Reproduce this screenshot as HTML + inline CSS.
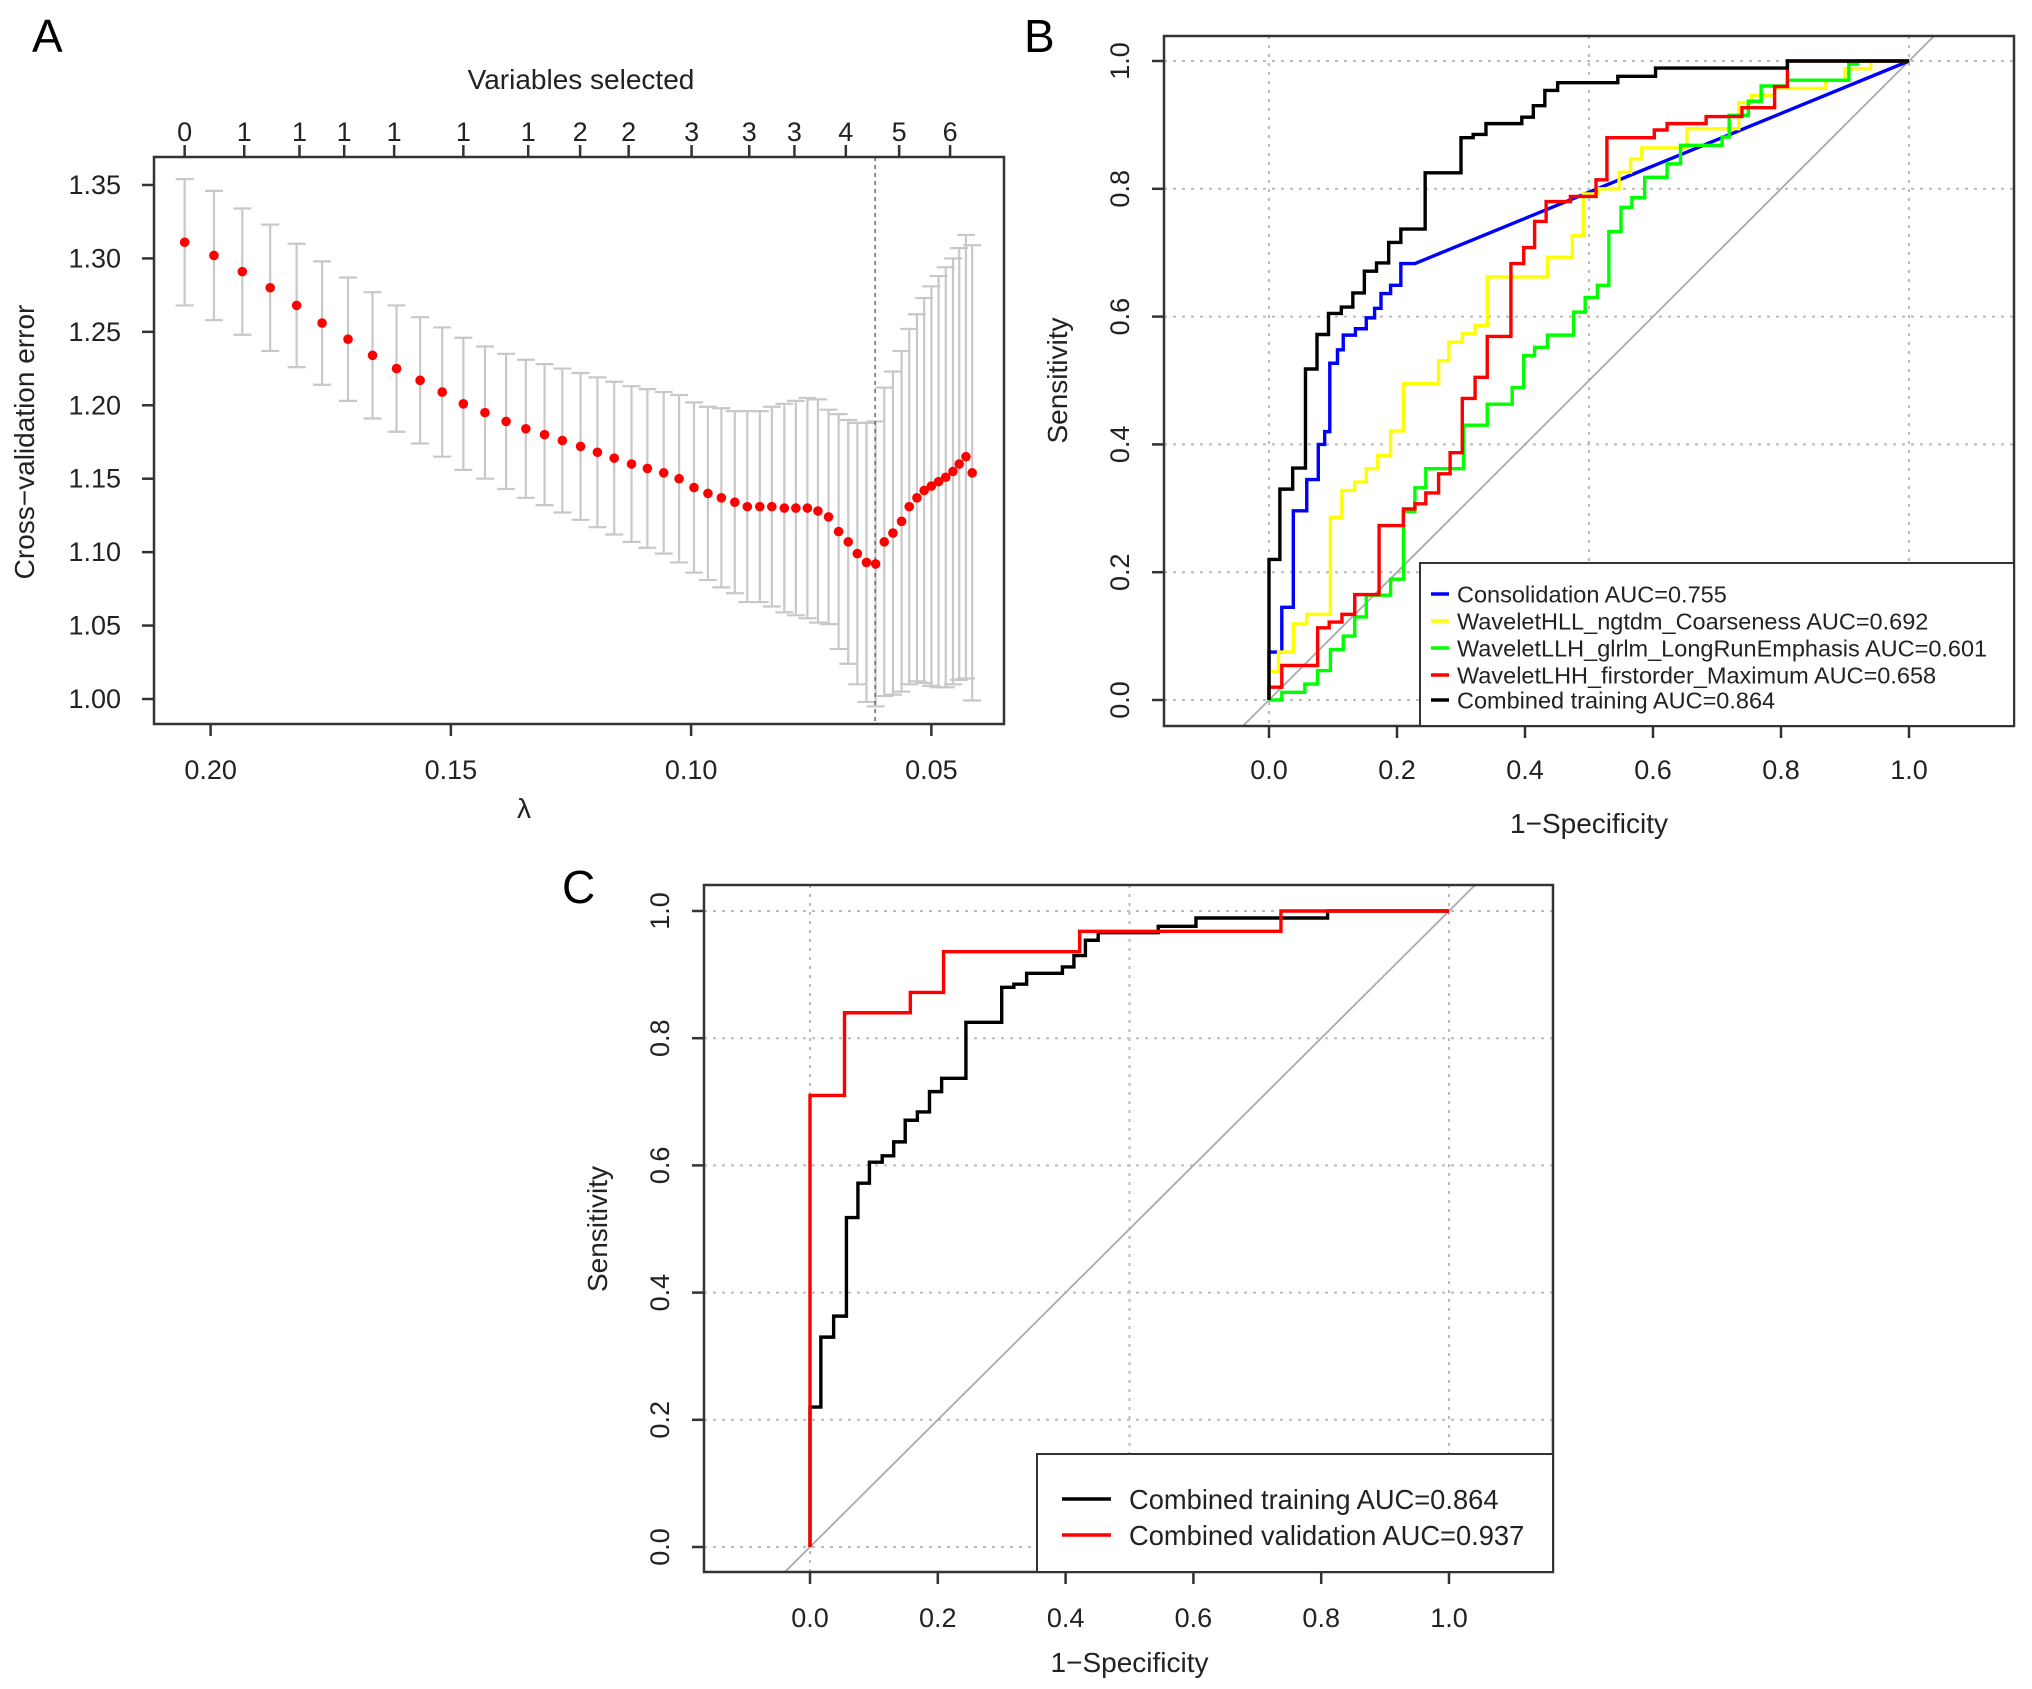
<!DOCTYPE html>
<html><head><meta charset="utf-8"><style>
html,body{margin:0;padding:0;background:#fff;}
svg{display:block;font-family:"Liberation Sans",sans-serif;}
</style></head><body>
<svg id="fig" width="2032" height="1689" viewBox="0 0 2032 1689" xmlns="http://www.w3.org/2000/svg"></svg>
<script>
// ---------- Panel A data ----------
const lassoLambda=[0.2054,0.1993,0.1934,0.1876,0.1821,0.1768,0.1714,0.1663,0.1613,0.1564,0.1518,0.1474,0.1429,0.1385,0.1344,0.1305,0.1268,0.1230,0.1195,0.1160,0.1124,0.1091,0.1057,0.1025,0.0994,0.0965,0.0937,0.0909,0.0883,0.0857,0.0832,0.0806,0.0782,0.0758,0.0736,0.0714,0.0693,0.0673,0.0654,0.0635,0.0616,0.0598,0.0580,0.0562,0.0546,0.0530,0.0515,0.0500,0.0485,0.0470,0.0455,0.0442,0.0428,0.0415];
const cvError=[1.311,1.302,1.291,1.280,1.268,1.256,1.245,1.234,1.225,1.217,1.209,1.201,1.195,1.189,1.184,1.180,1.176,1.172,1.168,1.164,1.160,1.157,1.154,1.150,1.144,1.140,1.137,1.134,1.131,1.131,1.131,1.130,1.130,1.130,1.128,1.124,1.114,1.107,1.099,1.093,1.092,1.107,1.113,1.121,1.131,1.137,1.142,1.145,1.148,1.151,1.155,1.160,1.165,1.154];
const cvSE=[0.043,0.044,0.043,0.043,0.042,0.042,0.042,0.043,0.043,0.043,0.044,0.045,0.045,0.046,0.047,0.048,0.049,0.050,0.051,0.052,0.053,0.054,0.055,0.057,0.058,0.059,0.061,0.062,0.065,0.065,0.068,0.071,0.073,0.075,0.076,0.073,0.080,0.083,0.089,0.095,0.097,0.105,0.110,0.116,0.121,0.125,0.131,0.136,0.140,0.143,0.145,0.147,0.151,0.155];
const topTickLambda=[0.2054,0.1930,0.1815,0.1722,0.1618,0.1474,0.1339,0.1231,0.1130,0.0999,0.0879,0.0785,0.0678,0.0567,0.0461];
const topTickLabels=["0","1","1","1","1","1","1","2","2","3","3","3","4","5","6"];
const xTicksA=[0.20,0.15,0.10,0.05];
const yTicksA=[1.00,1.05,1.10,1.15,1.20,1.25,1.30,1.35];
const lambdaMin=0.0617;
// ---------- ROC data ----------
const blackFpr=[0,0.017,0.037,0.057,0.075,0.093,0.113,0.131,0.149,0.168,0.187,0.206,0.244,0.300,0.319,0.339,0.395,0.413,0.431,0.451,0.545,0.604,0.810,1.0];
const blackTpr=[0.22,0.33,0.363,0.518,0.572,0.605,0.615,0.637,0.671,0.684,0.716,0.737,0.825,0.880,0.885,0.902,0.912,0.930,0.954,0.966,0.976,0.989,1.0,1.0];
const valFpr=[0,0.054,0.157,0.209,0.422,0.737,1.0];
const valTpr=[0.71,0.840,0.872,0.936,0.968,1.0,1.0];
const blueFpr=[0,0.02,0.038,0.059,0.077,0.087,0.095,0.107,0.116,0.135,0.152,0.165,0.175,0.19,0.206,0.228];
const blueTpr=[0.075,0.145,0.296,0.345,0.40,0.42,0.527,0.548,0.571,0.581,0.598,0.613,0.636,0.649,0.683,0.683];
const yellowFpr=[0,0.015,0.038,0.059,0.096,0.114,0.134,0.152,0.17,0.19,0.21,0.265,0.281,0.302,0.322,0.341,0.435,0.474,0.491,0.514,0.547,0.565,0.582,0.653,0.734,0.754,0.79,0.87,0.9,0.94,1.0];
const yellowTpr=[0.045,0.075,0.119,0.134,0.286,0.328,0.341,0.362,0.383,0.421,0.495,0.531,0.56,0.573,0.586,0.662,0.693,0.727,0.792,0.80,0.826,0.847,0.864,0.894,0.935,0.946,0.957,0.97,0.988,1.0,1.0];
const greenFpr=[0.02,0.056,0.076,0.096,0.116,0.134,0.152,0.19,0.21,0.228,0.245,0.304,0.341,0.38,0.398,0.415,0.435,0.476,0.494,0.513,0.531,0.55,0.567,0.587,0.622,0.643,0.708,0.719,0.749,0.769,0.81,0.906,0.92,1.0];
const greenTpr=[0.012,0.025,0.046,0.079,0.1,0.13,0.164,0.189,0.295,0.332,0.362,0.43,0.463,0.489,0.539,0.552,0.571,0.607,0.63,0.649,0.733,0.771,0.786,0.818,0.839,0.868,0.881,0.915,0.937,0.961,0.97,0.995,1.0,1.0];
const redFpr=[0,0.02,0.076,0.094,0.114,0.134,0.172,0.21,0.228,0.245,0.265,0.283,0.302,0.322,0.341,0.378,0.398,0.415,0.433,0.471,0.511,0.528,0.602,0.622,0.683,0.739,0.79,0.81,1.0];
const redTpr=[0.02,0.054,0.113,0.122,0.134,0.165,0.273,0.299,0.307,0.324,0.354,0.387,0.472,0.505,0.569,0.683,0.708,0.749,0.78,0.788,0.814,0.88,0.892,0.902,0.913,0.927,0.96,1.0,1.0];
const rocTicks=[0,0.2,0.4,0.6,0.8,1.0];
const rocTickLabels=["0.0","0.2","0.4","0.6","0.8","1.0"];
const legendB=["Consolidation AUC=0.755","WaveletHLL_ngtdm_Coarseness AUC=0.692","WaveletLLH_glrlm_LongRunEmphasis AUC=0.601","WaveletLHH_firstorder_Maximum AUC=0.658","Combined training AUC=0.864"];
const legendC=["Combined training AUC=0.864","Combined validation AUC=0.937"];

const NS="http://www.w3.org/2000/svg";
const svg=document.getElementById('fig');
const TF=27;
function mk(tag,attrs,parent,text){const e=document.createElementNS(NS,tag);for(const k in attrs)e.setAttribute(k,attrs[k]);if(text!==undefined)e.textContent=text;(parent||svg).appendChild(e);return e;}

// ================= Panel A =================
(function(){
  const L=154,R=1004,T=157,B=724;
  const xs=v=>210.6+(0.20-v)*4805;
  const ys=v=>699-(v-1.00)*1468.6;
  const g=mk('g',{});
  
  
  const lab=mk('text',{x:32,y:52,'font-size':46},g,'A');
  
  for(let i=0;i<lassoLambda.length;i++){
    const x=xs(lassoLambda[i]),y1=ys(cvError[i]+cvSE[i]),y2=ys(cvError[i]-cvSE[i]);
    const eb=mk('path',{d:`M${x},${y1}V${y2}M${x-9},${y1}H${x+9}M${x-9},${y2}H${x+9}`,stroke:'#c8c8c8','stroke-width':2.2,fill:'none'},g);
    
  }
  const dl=mk('line',{x1:xs(lambdaMin),x2:xs(lambdaMin),y1:T,y2:B,stroke:'#666','stroke-width':1.5,'stroke-dasharray':'4,4'},g);
  
  for(let i=0;i<lassoLambda.length;i++){
    const c=mk('circle',{cx:xs(lassoLambda[i]),cy:ys(cvError[i]),r:4.8,fill:'#ff0000'},g);
    
  }
  const box=mk('rect',{x:L,y:T,width:R-L,height:B-T,fill:'none',stroke:'#333','stroke-width':2.5},g);
  
  xTicksA.forEach(v=>{
    const x=xs(v);
    mk('line',{x1:x,x2:x,y1:B,y2:B+12,stroke:'#333','stroke-width':2.5},g);
    const t=mk('text',{x:x,y:779,'font-size':TF,'text-anchor':'middle',fill:'#222'},g,v.toFixed(2));
    
  });
  yTicksA.forEach(v=>{
    const y=ys(v);
    mk('line',{x1:L-12,x2:L,y1:y,y2:y,stroke:'#333','stroke-width':2.5},g);
    const t=mk('text',{x:121,y:y+9,'font-size':TF,'text-anchor':'end',fill:'#222'},g,v.toFixed(2));
    
  });
  topTickLambda.forEach((v,i)=>{
    const x=xs(v);
    mk('line',{x1:x,x2:x,y1:T-12,y2:T,stroke:'#333','stroke-width':2.5},g);
    const t=mk('text',{x:x,y:141,'font-size':TF,'text-anchor':'middle',fill:'#222'},g,topTickLabels[i]);
    
  });
  const tt=mk('text',{x:581,y:89,'font-size':28,'text-anchor':'middle',fill:'#222'},g,'Variables selected');
  
  const xt=mk('text',{x:524,y:818,'font-size':28,'text-anchor':'middle',fill:'#222'},g,'λ');
  
  const yt=mk('text',{x:0,y:0,'font-size':28,'text-anchor':'middle',fill:'#222',transform:'translate(34,442) rotate(-90)'},g,'Cross−validation error');
  
})();

// ================= ROC helper =================
function rocPanel(cfg){
  const {L,R,T,B,x0,x1,y0,y1,g}=cfg;
  const xs=v=>x0+(x1-x0)*v, ys=v=>y0-(y0-y1)*v;
  const clip=mk('clipPath',{id:cfg.id+'-clip'},g);
  mk('rect',{x:L,y:T,width:R-L,height:B-T},clip);
  [0,0.5,1].forEach(v=>{const l=mk('line',{x1:xs(v),x2:xs(v),y1:T,y2:B,stroke:'#bbb','stroke-width':2,'stroke-dasharray':'3,6'},g);});
  rocTicks.forEach(v=>{const l=mk('line',{x1:L,x2:R,y1:ys(v),y2:ys(v),stroke:'#bbb','stroke-width':2,'stroke-dasharray':'3,6'},g);});
  const d=mk('line',{x1:xs(-0.2),y1:ys(-0.2),x2:xs(1.2),y2:ys(1.2),stroke:'#aaa','stroke-width':1.8,'clip-path':`url(#${cfg.id}-clip)`},g);
  
  cfg.series.forEach(s=>{
    let p=`M${xs(0)},${ys(0)}`;let pt=0;
    for(let i=0;i<s.f.length;i++){
      if(s.diag&&i===s.f.length-1){p+=`L${xs(s.f[i])},${ys(s.t[i])}`;}
      else{p+=`L${xs(s.f[i])},${ys(pt)}L${xs(s.f[i])},${ys(s.t[i])}`;}
      pt=s.t[i];
    }
    const e=mk('path',{d:p,fill:'none',stroke:s.c,'stroke-width':3.4,'stroke-linejoin':'miter'},g);
    
  });
  const box=mk('rect',{x:L,y:T,width:R-L,height:B-T,fill:'none',stroke:'#333','stroke-width':2.5},g);
  
  rocTicks.forEach((v,i)=>{
    const x=xs(v),y=ys(v);
    mk('line',{x1:x,x2:x,y1:B,y2:B+12,stroke:'#333','stroke-width':2.5},g);
    const t=mk('text',{x:x,y:cfg.xlabY,'font-size':TF,'text-anchor':'middle',fill:'#222'},g,rocTickLabels[i]);
    
    mk('line',{x1:L-12,x2:L,y1:y,y2:y,stroke:'#333','stroke-width':2.5},g);
    const u=mk('text',{x:0,y:0,'font-size':TF,'text-anchor':'middle',fill:'#222',transform:`translate(${cfg.ylabX},${y}) rotate(-90)`},g,rocTickLabels[i]);
    
  });
  const xt=mk('text',{x:(xs(0)+xs(1))/2,y:cfg.xTitleY,'font-size':28,'text-anchor':'middle',fill:'#222'},g,'1−Specificity');
  
  const yt=mk('text',{x:0,y:0,'font-size':28,'text-anchor':'middle',fill:'#222',transform:`translate(${cfg.yTitleX},${(ys(0)+ys(1))/2}) rotate(-90)`},g,'Sensitivity');
  
  const lg=mk('g',{},g);
  
  const lb=mk('rect',{x:cfg.legX,y:cfg.legY,width:R-cfg.legX,height:B-cfg.legY,fill:'#fff',stroke:'#333','stroke-width':2},lg);
  
  cfg.legend.forEach((txt,i)=>{
    const y=cfg.legRowY[i];
    const ln=mk('line',{x1:cfg.legLine[0],x2:cfg.legLine[1],y1:y,y2:y,stroke:cfg.legColors[i],'stroke-width':3.4},lg);
    
    const t=mk('text',{x:cfg.legText,y:y+cfg.legFont*0.36,'font-size':cfg.legFont,fill:'#222'},lg,txt);
    
  });
}

// ================= Panel B =================
(function(){
  const g=mk('g',{});
  
  
  const lab=mk('text',{x:1024,y:52,'font-size':46},g,'B');
  
  rocPanel({id:'pb',g,L:1164,R:2014,T:36,B:726,x0:1269,x1:1909,y0:700,y1:61,
    xlabY:779,ylabX:1129,xTitleY:833,yTitleX:1067,
    series:[
      {f:blueFpr.concat([1.0]),t:blueTpr.concat([1.0]),c:'#0000ff',name:'consolidation-curve',diag:true},
      {f:yellowFpr,t:yellowTpr,c:'#ffff00',name:'coarseness-curve'},
      {f:greenFpr,t:greenTpr,c:'#00ff00',name:'longrunemphasis-curve'},
      {f:redFpr,t:redTpr,c:'#ff0000',name:'maximum-curve'},
      {f:blackFpr,t:blackTpr,c:'#000000',name:'combined-training-curve'}
    ],
    legend:legendB,legColors:['#0000ff','#ffff00','#00ff00','#ff0000','#000000'],
    legX:1420,legY:563,legRowY:[594,621,648,675,700],legLine:[1431,1449],legText:1457,legFont:23.5});
})();

// ================= Panel C =================
(function(){
  const g=mk('g',{});
  
  
  const lab=mk('text',{x:562,y:903,'font-size':46},g,'C');
  
  rocPanel({id:'pc',g,L:704,R:1553,T:885,B:1572,x0:810,x1:1449,y0:1547,y1:911,
    xlabY:1627,ylabX:669,xTitleY:1672,yTitleX:607,
    series:[
      {f:blackFpr,t:blackTpr,c:'#000000',name:'combined-training-curve'},
      {f:valFpr,t:valTpr,c:'#ff0000',name:'combined-validation-curve'}
    ],
    legend:legendC,legColors:['#000000','#ff0000'],
    legX:1037,legY:1454,legRowY:[1499,1535],legLine:[1062,1111],legText:1129,legFont:27.3});
})();
</script>
</body></html>
